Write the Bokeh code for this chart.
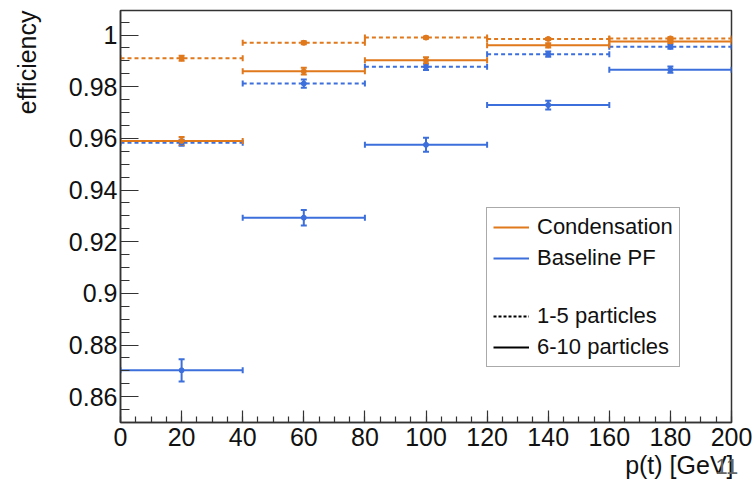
import numpy as np
from bokeh.plotting import figure
from bokeh.models import (Range1d, FixedTicker, CustomJSTickFormatter, Whisker, TeeHead,
                          ColumnDataSource, Label, Legend, LegendItem, Title)
from bokeh.embed import file_html
from bokeh.resources import INLINE

# ---- data ----
bin_lo = [0, 40, 80, 120, 160]
bin_hi = [40, 80, 120, 160, 200]
bin_center = [20, 60, 100, 140, 180]

cond_1to5 = [0.9910, 0.9970, 0.9990, 0.9985, 0.9987]
cond_1to5_err = [0.0010, 0.0006, 0.0004, 0.0004, 0.0004]
cond_6to10 = [0.9590, 0.9860, 0.9902, 0.9960, 0.9975]
cond_6to10_err = [0.0015, 0.0013, 0.0012, 0.0008, 0.0006]
base_1to5 = [0.9583, 0.9812, 0.9877, 0.9926, 0.9955]
base_1to5_err = [0.0012, 0.0016, 0.0012, 0.0010, 0.0008]
base_6to10 = [0.8702, 0.9293, 0.9575, 0.9729, 0.9866]
base_6to10_err = [0.0043, 0.0030, 0.0027, 0.0017, 0.0012]

y_ticks = [0.86, 0.88, 0.90, 0.92, 0.94, 0.96, 0.98, 1.00]
x_ticks = list(range(0, 201, 20))

ORANGE = "#E0781C"
BLUE = "#3C6FDB"
FONT = "Liberation Sans"

Y_MIN, Y_MAX = 0.850, 1.0095
X_MIN, X_MAX = 0, 200

p = figure(width=756, height=486, output_backend="svg", toolbar_location=None,
           x_range=Range1d(X_MIN, X_MAX), y_range=Range1d(Y_MIN, Y_MAX),
           min_border_left=120, min_border_right=25, min_border_top=10, min_border_bottom=64)
p.background_fill_color = "white"
p.border_fill_color = "white"
p.xgrid.visible = False
p.ygrid.visible = False
p.outline_line_color = "#333333"
p.outline_line_width = 1.5

p.yaxis.ticker = FixedTicker(ticks=y_ticks, minor_ticks=list(np.round(np.arange(0.850, 1.0101, 0.005), 3)))
p.xaxis.ticker = FixedTicker(ticks=x_ticks, minor_ticks=list(range(0, 201, 5)))
p.yaxis.formatter = CustomJSTickFormatter(code="return String(parseFloat(tick.toFixed(3)));")

for ax, tin, minin in ((p.yaxis, 18, 9), (p.xaxis, 12, 6)):
    ax.major_tick_in = tin
    ax.major_tick_out = 0
    ax.minor_tick_in = minin
    ax.minor_tick_out = 0
    ax.axis_line_color = "#333333"
    ax.axis_line_width = 1.5
    ax.major_tick_line_color = "#333333"
    ax.minor_tick_line_color = "#333333"
    ax.major_tick_line_width = 1.2
    ax.minor_tick_line_width = 1.2
    ax.major_label_text_font = FONT
    ax.major_label_text_font_size = "25px"
    ax.major_label_text_color = "#111111"
p.yaxis.major_label_standoff = 3
p.xaxis.major_label_standoff = 5


def draw(vals, errs, color, dash):
    src = ColumnDataSource(dict(lo=bin_lo, hi=bin_hi, x=bin_center, y=vals,
                                ylo=[v - e for v, e in zip(vals, errs)],
                                yhi=[v + e for v, e in zip(vals, errs)]))
    hw = Whisker(source=src, base="y", lower="lo", upper="hi", dimension="width",
                 line_color=color, line_width=2, line_dash=dash,
                 lower_head=TeeHead(size=6, line_color=color, line_width=2),
                 upper_head=TeeHead(size=6, line_color=color, line_width=2))
    vw = Whisker(source=src, base="x", lower="ylo", upper="yhi", dimension="height",
                 line_color=color, line_width=2,
                 lower_head=TeeHead(size=6, line_color=color, line_width=2),
                 upper_head=TeeHead(size=6, line_color=color, line_width=2))
    p.add_layout(hw)
    p.add_layout(vw)
    p.scatter("x", "y", source=src, size=5, color=color, marker="circle")


draw(base_6to10, base_6to10_err, BLUE, "solid")
draw(base_1to5, base_1to5_err, BLUE, "4 3")
draw(cond_6to10, cond_6to10_err, ORANGE, "solid")
draw(cond_1to5, cond_1to5_err, ORANGE, "4 3")

# legend proxies (placed outside the visible range)
off_x = [-50, -40]
off_y = [0.5, 0.5]
r_cond = p.line(x=off_x, y=off_y, line_color=ORANGE, line_width=2)
r_base = p.line(x=off_x, y=off_y, line_color=BLUE, line_width=2)
r_blank = p.line(x=off_x, y=off_y, line_alpha=0)
r_dash = p.line(x=off_x, y=off_y, line_color="black", line_width=2, line_dash="3 2")
r_solid = p.line(x=off_x, y=off_y, line_color="black", line_width=2)

legend = Legend(items=[
    LegendItem(label="Condensation", renderers=[r_cond]),
    LegendItem(label="Baseline PF", renderers=[r_base]),
    LegendItem(label=" ", renderers=[r_blank]),
    LegendItem(label="1-5 particles", renderers=[r_dash]),
    LegendItem(label="6-10 particles", renderers=[r_solid]),
], location=(366, 55))
legend.label_text_font = FONT
legend.label_text_font_size = "22px"
legend.label_text_color = "#111111"
legend.label_height = 22
legend.glyph_height = 22
legend.glyph_width = 36
legend.label_standoff = 8
legend.spacing = 5
legend.padding = 6
legend.margin = 0
legend.border_line_color = "#555555"
legend.border_line_width = 1.2
legend.background_fill_color = "white"
legend.background_fill_alpha = 1
p.add_layout(legend, "center")

# axis titles
p.add_layout(Label(x=-11, y=412, x_units="screen", y_units="screen", text="efficiency",
                   angle=np.pi / 2, text_align="right", text_baseline="middle",
                   text_font=FONT, text_font_size="25px", text_color="#111111"), "left")
p.add_layout(Title(text="p(t) [GeV]", align="right", text_font=FONT, text_font_size="25px",
                   text_font_style="normal", text_color="#111111", standoff=0, offset=-2), "below")
# stray slide page number overlapping the axis title
p.add_layout(Label(x=-16, y=-44, x_units="screen", y_units="screen", text="11",
                   text_align="left", text_baseline="middle",
                   text_font=FONT, text_font_size="22px", text_color="#666666"), "right")

open("out.html", "w").write(file_html(p, INLINE))
